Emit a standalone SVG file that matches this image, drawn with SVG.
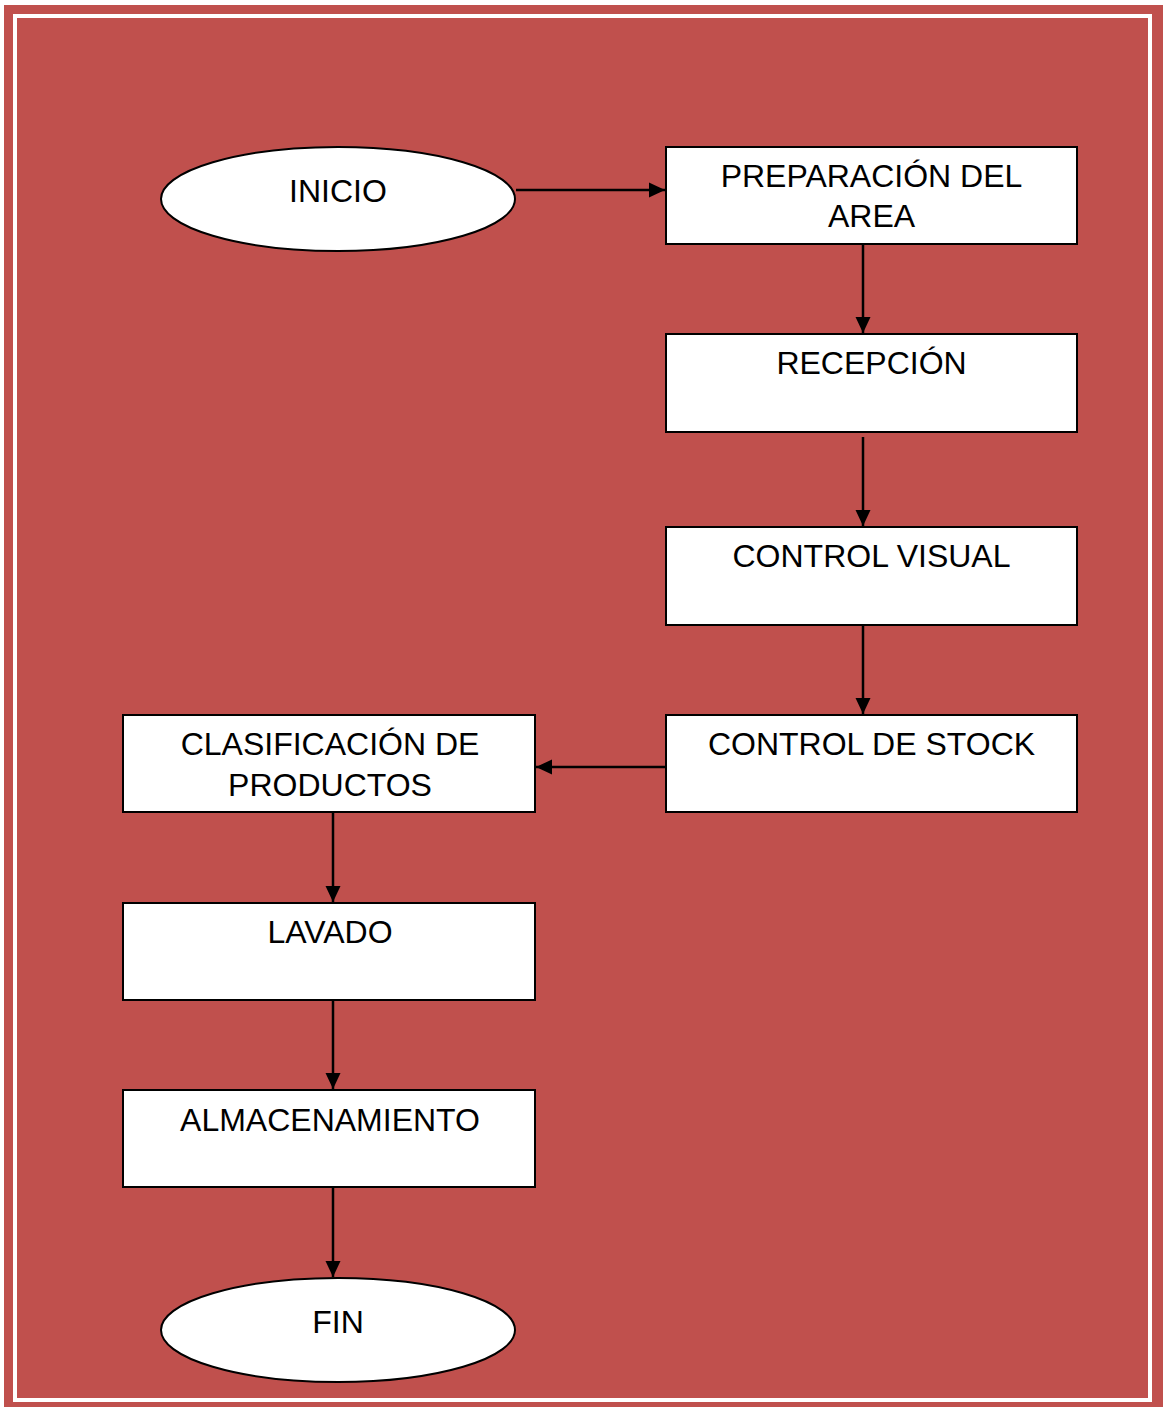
<svg xmlns="http://www.w3.org/2000/svg" width="1163" height="1407" viewBox="0 0 1163 1407">
<defs>
<style>
.box{fill:#ffffff;stroke:#000000;stroke-width:2}
.lbl{font-family:"Liberation Sans",Arial,sans-serif;font-size:32px;fill:#000000;text-anchor:middle}
.edge{stroke:#000000;stroke-width:2.5;fill:none;marker-end:url(#ah)}
</style>
<marker id="ah" markerUnits="userSpaceOnUse" markerWidth="16" markerHeight="16" viewBox="0 0 16 16" refX="16" refY="8" orient="auto">
<path d="M0,0.5 L16,8 L0,15.5 Z" fill="#000000"/>
</marker>
</defs>
<rect x="4" y="5" width="1159" height="1402" fill="#c0504d"/>
<rect x="15" y="16" width="1135" height="1384" fill="none" stroke="#ffffff" stroke-width="4"/>
<g id="connectors">
<line class="edge" x1="516" y1="190" x2="665" y2="190"/>
<line class="edge" x1="863" y1="245" x2="863" y2="333"/>
<line class="edge" x1="863" y1="437" x2="863" y2="526"/>
<line class="edge" x1="863" y1="626" x2="863" y2="714"/>
<line class="edge" x1="665" y1="767" x2="536" y2="767"/>
<line class="edge" x1="333" y1="813" x2="333" y2="902"/>
<line class="edge" x1="333" y1="1001" x2="333" y2="1089"/>
<line class="edge" x1="333" y1="1188" x2="333" y2="1277"/>
</g>
<g id="inicio">
<ellipse class="box" cx="338" cy="199" rx="177" ry="52"/>
<text class="lbl" x="338" y="202">INICIO</text>
</g>
<g id="preparacion">
<rect class="box" x="666" y="147" width="411" height="97"/>
<text class="lbl" x="871.5" y="187">PREPARACIÓN DEL</text>
<text class="lbl" x="871.5" y="227">AREA</text>
</g>
<g id="recepcion">
<rect class="box" x="666" y="334" width="411" height="98"/>
<text class="lbl" x="871.5" y="374">RECEPCIÓN</text>
</g>
<g id="control-visual">
<rect class="box" x="666" y="527" width="411" height="98"/>
<text class="lbl" x="871.5" y="567">CONTROL VISUAL</text>
</g>
<g id="control-stock">
<rect class="box" x="666" y="715" width="411" height="97"/>
<text class="lbl" x="871.5" y="755">CONTROL DE STOCK</text>
</g>
<g id="clasificacion">
<rect class="box" x="123" y="715" width="412" height="97"/>
<text class="lbl" x="330" y="755">CLASIFICACIÓN DE</text>
<text class="lbl" x="330" y="796">PRODUCTOS</text>
</g>
<g id="lavado">
<rect class="box" x="123" y="903" width="412" height="97"/>
<text class="lbl" x="330" y="943">LAVADO</text>
</g>
<g id="almacenamiento">
<rect class="box" x="123" y="1090" width="412" height="97"/>
<text class="lbl" x="330" y="1131">ALMACENAMIENTO</text>
</g>
<g id="fin">
<ellipse class="box" cx="338" cy="1330" rx="177" ry="52"/>
<text class="lbl" x="338" y="1333">FIN</text>
</g>
</svg>
